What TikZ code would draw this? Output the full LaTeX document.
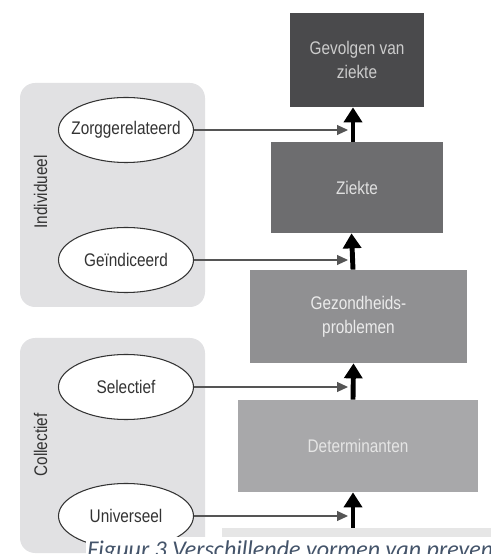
\documentclass[tikz,border=0pt]{standalone}
\usepackage{fontspec}
\setsansfont{Liberation Sans}[FakeStretch=0.84]
\newfontfamily\captionfont{Carlito}
\usepackage{tikz}
\usetikzlibrary{arrows.meta,positioning,shapes.geometric}
\definecolor{panelgray}{RGB}{225,225,227}
\definecolor{outcome}{RGB}{74,74,76}
\definecolor{disease}{RGB}{109,109,111}
\definecolor{problem}{RGB}{144,144,146}
\definecolor{determ}{RGB}{168,168,170}
\definecolor{inkgray}{RGB}{51,51,51}
\definecolor{linegray}{RGB}{85,85,85}
\definecolor{stripgray}{RGB}{230,230,230}
\definecolor{captionblue}{RGB}{68,84,106}

\begin{document}
\begin{tikzpicture}[
  font=\sffamily\fontsize{10.4}{13.5}\selectfont,
  panel/.style={rectangle,rounded corners=0.3cm,fill=panelgray,minimum width=3.7cm,inner sep=0pt},
  panellabel/.style={rotate=90,text=inkgray,inner sep=0pt},
  form/.style={ellipse,draw=inkgray,line width=0.6pt,fill=white,text=inkgray,minimum width=2.7cm,minimum height=1.3cm,inner xsep=-0.4cm,inner ysep=0pt},
  level/.style={rectangle,align=center,inner sep=0pt},
  feed/.style={-{Triangle[length=0.22cm,width=0.2cm]},draw=linegray,line width=0.6pt},
  rise/.style={-{Triangle[length=0.3cm,width=0.36cm]},draw=black,line width=2.8pt}
]
\useasboundingbox (0,0) rectangle (9.82,11.08);
% grey panels
\node[panel,minimum height=4.48cm] (indiv) at (2.25,7.18) {};
\node[panel,minimum height=4.3cm] (coll) at (2.25,2.17) {};
\node[panellabel] (indivlabel) at (0.81,7.24) {Individueel};
\node[panellabel] (colllabel) at (0.81,2.18) {Collectief};
\fill[stripgray] (4.44,0.34) rectangle (9.82,0.52);
% forms of prevention
\node[form] (zorg) at (2.52,8.48) {Zorggerelateerd};
\node[form] (geind) at (2.52,5.88) {Geïndiceerd};
\node[form] (select) at (2.52,3.34) {Selectief};
\node[form] (univ) at (2.52,0.76) {Universeel};
% chain of levels
\node[level,fill=outcome,text=white!80!black,minimum width=2.68cm,minimum height=1.88cm] (gevolgen) at (7.14,9.88) {Gevolgen van\\ziekte};
\node[level,fill=disease,text=white!88!black,minimum width=3.44cm,minimum height=1.82cm] (ziekte) at (7.14,7.33) {Ziekte};
\node[level,fill=problem,text=white!92!black,minimum width=4.34cm,minimum height=1.86cm] (gezond) at (7.17,4.75) {Gezondheids-\\problemen};
\node[level,fill=determ,text=white!90!black,minimum width=4.8cm,minimum height=1.84cm] (determ) at (7.16,2.16) {Determinanten};
\coordinate (feedx) at (6.96,0);
\coordinate (base) at (7.06,0.52);
\draw[rise] ([xshift=-0.08cm]ziekte.north) -- ([xshift=-0.08cm]gevolgen.south);
\draw[rise] ([xshift=-0.11cm]gezond.north) -- ([xshift=-0.11cm]ziekte.south);
\draw[rise] ([xshift=-0.1cm]determ.north) -- ([xshift=-0.1cm]gezond.south);
\draw[rise] (base) -- (determ.south -| base);
\draw[feed] (zorg.east) -- (zorg.east -| feedx);
\draw[feed] (geind.east) -- (geind.east -| feedx);
\draw[feed] (select.east) -- (select.east -| feedx);
\draw[feed] (univ.east) -- (univ.east -| feedx);
% caption, cut by the page edge
\fill[white] (1.72,0) rectangle (9.82,0.34);
\node[anchor=base west,inner sep=0pt,font=\captionfont\itshape\fontsize{13.7}{16}\selectfont,text=captionblue] (caption) at (1.74,-0.07) {Figuur 3 Verschillende vormen van preven};
\end{tikzpicture}
\end{document}
